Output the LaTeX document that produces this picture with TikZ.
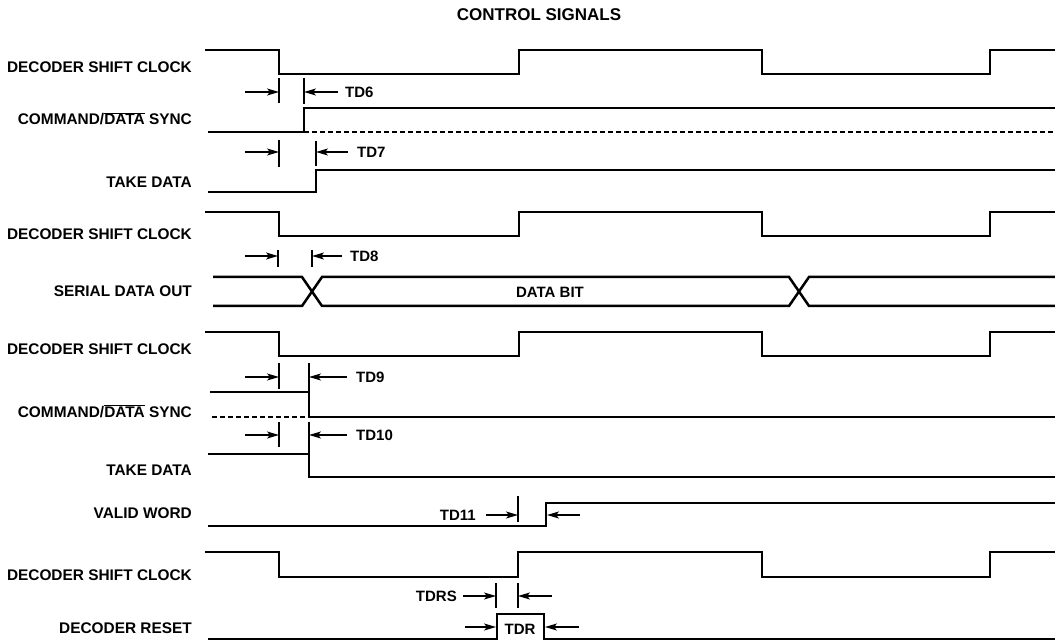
\documentclass[tikz,border=0pt]{standalone}
\usepackage{fontspec}
\setmainfont{Liberation Sans}
\usetikzlibrary{arrows.meta}
\newcommand\ovlx[1]{$\overline{\mbox{#1}}$}
\begin{document}
\begin{tikzpicture}[x=1pt,y=-1pt,
  wave/.style={line width=2.5pt, line join=miter},
  dashwave/.style={line width=2.2pt, dash pattern=on 5pt off 3pt},
  tickln/.style={line width=1.2pt},
  tarrow/.style={line width=1.4pt,-{Stealth[length=12pt,width=7pt,inset=3pt]}},
  lbl/.style={anchor=base east, inner sep=0pt, font=\fontsize{15.4}{18}\selectfont\bfseries},
  tlbl/.style={inner sep=0pt, font=\fontsize{15}{18}\selectfont\bfseries},
]
\useasboundingbox (0,0) rectangle (1055,644);

% title
\node[inner sep=0pt, font=\fontsize{17}{20}\selectfont\bfseries] (title) at (539,15) {CONTROL SIGNALS};

% row labels
\node[lbl] (l1) at (192,73) {DECODER SHIFT CLOCK};
\node[lbl] (l2) at (192,125) {COMMAND/\ovlx{DATA} SYNC};
\node[lbl] (l3) at (192,188) {TAKE DATA};
\node[lbl] (l4) at (192,240) {DECODER SHIFT CLOCK};
\node[lbl] (l5) at (192,297) {SERIAL DATA OUT};
\node[lbl] (l6) at (192,354) {DECODER SHIFT CLOCK};
\node[lbl] (l7) at (192,417) {COMMAND/\ovlx{DATA} SYNC};
\node[lbl] (l8) at (192,475) {TAKE DATA};
\node[lbl] (l9) at (192,518) {VALID WORD};
\node[lbl] (l10) at (192,580) {DECODER SHIFT CLOCK};
\node[lbl] (l11) at (192,633) {DECODER RESET};

% clocks
\draw[wave] (205,50) -- (279,50) -- (279,74) -- (519,74) -- (519,50) -- (762,50) -- (762,74) -- (990,74) -- (990,50) -- (1055,50);
\draw[wave] (205,212) -- (279,212) -- (279,236) -- (519,236) -- (519,212) -- (762,212) -- (762,236) -- (990,236) -- (990,212) -- (1055,212);
\draw[wave] (205,332) -- (279,332) -- (279,356) -- (519,356) -- (519,332) -- (762,332) -- (762,356) -- (990,356) -- (990,332) -- (1055,332);
\draw[wave] (205,552) -- (279,552) -- (279,577) -- (518,577) -- (518,552) -- (762,552) -- (762,577) -- (990,577) -- (990,552) -- (1055,552);

% command/data sync 1
\draw[wave] (208,132) -- (304,132) -- (304,108) -- (1055,108);
\draw[dashwave] (304,132) -- (1055,132);
% take data 1
\draw[wave] (208,192) -- (316,192) -- (316,170) -- (1055,170);
% serial data out
\draw[wave] (213,277) -- (302,277) -- (322,306) -- (789,306) -- (809,277) -- (1055,277);
\draw[wave] (213,306) -- (302,306) -- (322,277) -- (789,277) -- (809,306) -- (1055,306);
\node[tlbl] (databit) at (550,292) {DATA BIT};
% command/data sync 2
\draw[wave] (210,392) -- (309,392) -- (309,417) -- (1055,417);
\draw[dashwave] (212,417) -- (309,417);
% take data 2
\draw[wave] (208,454) -- (309,454) -- (309,477) -- (1055,477);
% valid word
\draw[wave] (208,526) -- (546,526) -- (546,503) -- (1055,503);
% decoder reset
\draw[wave] (208,639) -- (497,639) -- (497,614) -- (544,614) -- (544,639) -- (1055,639);

% TD6
\coordinate (t6a) at (279,78); \coordinate (t6b) at (279,103);
\coordinate (t6c) at (304,78); \coordinate (t6d) at (304,104);
\draw[tickln] (t6a) -- (t6b); \draw[tickln] (t6c) -- (t6d);
\node[tlbl, anchor=west] (td6) at (345,92) {TD6};
\coordinate (a6l) at (245,92); \coordinate (a6m) at (279,92);
\coordinate (a6r) at (338,92); \coordinate (a6n) at (304,92);
\draw[tarrow] (a6l) -- (a6m); \draw[tarrow] (a6r) -- (a6n);

% TD7
\coordinate (t7a) at (279,140); \coordinate (t7b) at (279,167);
\coordinate (t7c) at (316,141); \coordinate (t7d) at (316,166);
\draw[tickln] (t7a) -- (t7b); \draw[tickln] (t7c) -- (t7d);
\node[tlbl, anchor=west] (td7) at (357,152) {TD7};
\coordinate (a7l) at (245,152); \coordinate (a7m) at (279,152);
\coordinate (a7r) at (348,152); \coordinate (a7n) at (316,152);
\draw[tarrow] (a7l) -- (a7m); \draw[tarrow] (a7r) -- (a7n);

% TD8
\coordinate (t8a) at (278,250); \coordinate (t8b) at (278,267);
\coordinate (t8c) at (312,250); \coordinate (t8d) at (312,267);
\draw[tickln] (t8a) -- (t8b); \draw[tickln] (t8c) -- (t8d);
\node[tlbl, anchor=west] (td8) at (350,256) {TD8};
\coordinate (a8l) at (245,256); \coordinate (a8m) at (278,256);
\coordinate (a8r) at (342,256); \coordinate (a8n) at (312,256);
\draw[tarrow] (a8l) -- (a8m); \draw[tarrow] (a8r) -- (a8n);

% TD9
\coordinate (t9a) at (279,363); \coordinate (t9b) at (279,389);
\coordinate (t9c) at (309,363); \coordinate (t9d) at (309,392);
\draw[tickln] (t9a) -- (t9b); \draw[tickln] (t9c) -- (t9d);
\node[tlbl, anchor=west] (td9) at (356,377) {TD9};
\coordinate (a9l) at (245,377); \coordinate (a9m) at (279,377);
\coordinate (a9r) at (347,377); \coordinate (a9n) at (309,377);
\draw[tarrow] (a9l) -- (a9m); \draw[tarrow] (a9r) -- (a9n);

% TD10
\coordinate (t10a) at (279,422); \coordinate (t10b) at (279,447);
\coordinate (t10c) at (309,422); \coordinate (t10d) at (309,454);
\draw[tickln] (t10a) -- (t10b); \draw[tickln] (t10c) -- (t10d);
\node[tlbl, anchor=west] (td10) at (356,435) {TD10};
\coordinate (a10l) at (245,435); \coordinate (a10m) at (279,435);
\coordinate (a10r) at (347,435); \coordinate (a10n) at (309,435);
\draw[tarrow] (a10l) -- (a10m); \draw[tarrow] (a10r) -- (a10n);

% TD11
\coordinate (t11a) at (518,496); \coordinate (t11b) at (518,522);
\draw[tickln] (t11a) -- (t11b);
\node[tlbl, anchor=east] (td11) at (476,515) {TD11};
\coordinate (a11m) at (518,515); \coordinate (a11r) at (580,515); \coordinate (a11n) at (547,515);
\draw[tarrow] (td11.east) ++(10,0) coordinate (a11l) -- (a11m);
\draw[tarrow] (a11r) -- (a11n);

% TDRS
\coordinate (trsa) at (496,583); \coordinate (trsb) at (496,608);
\coordinate (trsc) at (518,583); \coordinate (trsd) at (518,608);
\draw[tickln] (trsa) -- (trsb); \draw[tickln] (trsc) -- (trsd);
\node[tlbl, anchor=east] (tdrs) at (457,596) {TDRS};
\coordinate (arsl) at (463,596); \coordinate (arsm) at (496,596);
\coordinate (arsr) at (552,596); \coordinate (arsn) at (518,596);
\draw[tarrow] (arsl) -- (arsm); \draw[tarrow] (arsr) -- (arsn);

% TDR
\node[tlbl] (tdr) at (520,629) {TDR};
\coordinate (arl) at (465,627); \coordinate (arm) at (496,627);
\coordinate (arr) at (579,627); \coordinate (arn) at (545,627);
\draw[tarrow] (arl) -- (arm); \draw[tarrow] (arr) -- (arn);
\end{tikzpicture}
\end{document}
